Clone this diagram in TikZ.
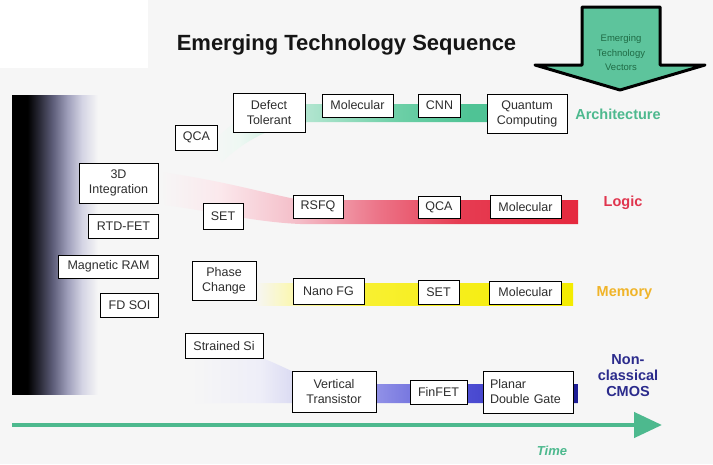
\documentclass[tikz,border=0pt]{standalone}
\usepackage{fontspec}
\setmainfont{Liberation Sans}
\usetikzlibrary{arrows.meta}
\definecolor{bg}{HTML}{F6F6F6}
\definecolor{archgreen}{HTML}{4DB98E}
\definecolor{arrowgreen}{HTML}{5DC49C}
\definecolor{arrowtext}{HTML}{1F6B45}
\definecolor{logicred}{HTML}{E0354E}
\definecolor{memyellow}{HTML}{F0B429}
\definecolor{cmosblue}{HTML}{2B2B8C}
\definecolor{timegreen}{HTML}{4DB98E}
\definecolor{boxtext}{HTML}{2E2E2E}
\definecolor{titletext}{HTML}{151515}
% dark bar stops
\definecolor{dbA}{HTML}{2A2A38}
\definecolor{dbB}{HTML}{60607C}
\definecolor{dbC}{HTML}{9C9CB8}
\definecolor{dbD}{HTML}{D4D4E4}
% green band stops
\definecolor{gA}{HTML}{EEF8F3}
\definecolor{gB}{HTML}{B4E6D1}
\definecolor{gC}{HTML}{6CCFA6}
\definecolor{gD}{HTML}{4FC395}
% red band stops
\definecolor{rA}{HTML}{FBE8EC}
\definecolor{rB}{HTML}{F4BCC7}
\definecolor{rC}{HTML}{EC7286}
\definecolor{rD}{HTML}{E63C52}
\definecolor{rE}{HTML}{E5283E}
% yellow band stops
\definecolor{yA}{HTML}{FBF7B0}
\definecolor{yB}{HTML}{F8F030}
\definecolor{yC}{HTML}{F4EC00}
% blue band stops
\definecolor{bA}{HTML}{EEEEF8}
\definecolor{bB}{HTML}{DADAF2}
\definecolor{bC}{HTML}{8E8EE6}
\definecolor{bD}{HTML}{4C4CD2}
\definecolor{bE}{HTML}{2C2CB4}
\definecolor{bF}{HTML}{1E1E96}
\pgfdeclarehorizontalshading{darkbar}{100bp}{color(0bp)=(black); color(25bp)=(black); color(34bp)=(black); color(41bp)=(dbA); color(49bp)=(dbB); color(57bp)=(dbC); color(65.7bp)=(dbD); color(75bp)=(bg); color(100bp)=(bg)}
\pgfdeclarehorizontalshading{greenband}{100bp}{color(0bp)=(bg); color(25bp)=(bg); color(30bp)=(gA); color(41.4bp)=(gB); color(58.2bp)=(gC); color(70.6bp)=(gD); color(100bp)=(gD)}
\pgfdeclarehorizontalshading{redband}{100bp}{color(0bp)=(bg); color(25bp)=(bg); color(32.2bp)=(rA); color(41.7bp)=(rB); color(51.3bp)=(rC); color(60.9bp)=(rD); color(75bp)=(rE); color(100bp)=(rE)}
\pgfdeclarehorizontalshading{yellowband}{100bp}{color(0bp)=(bg); color(25bp)=(bg); color(31bp)=(yA); color(43bp)=(yB); color(75bp)=(yC); color(100bp)=(yC)}
\pgfdeclarehorizontalshading{blueband}{100bp}{color(0bp)=(bg); color(25bp)=(bg); color(34bp)=(bA); color(38.5bp)=(bB); color(49.5bp)=(bC); color(61.1bp)=(bD); color(73.8bp)=(bE); color(74.2bp)=(bF); color(100bp)=(bF)}
\begin{document}
\begin{tikzpicture}[x=1pt,y=-1pt,
  box/.style={draw=black, line width=0.8pt, fill=white, text=boxtext,
    font=\fontsize{12.5}{15}\selectfont, align=center, inner sep=0pt},
  rowlabel/.style={font=\fontsize{14.5}{16}\selectfont\bfseries, align=center, inner sep=0pt}]
\useasboundingbox (0,0) rectangle (713,464);
% background
\fill[bg] (0,0) rectangle (713,464);
\fill[white] (0,0) rectangle (148,68);
% left dark bar
\shade[shading=darkbar] (12,95) rectangle (98,394);
% bands
\shade[shading=greenband] (210,148) .. controls (228,120) and (260,104) .. (310,104) -- (495,104) -- (495,122) -- (310,122) .. controls (275,124) and (245,140) .. (222,162) -- cycle;
\shade[shading=redband] (160,172) .. controls (220,180) and (260,192) .. (300,200) -- (578,200) -- (578,224) -- (300,224) .. controls (255,222) and (215,212) .. (165,205) -- cycle;
\shade[shading=yellowband] (255,283) rectangle (573,305);
\shade[shading=blueband] (190,358) -- (262,358) .. controls (275,363) and (285,368) .. (300,375) -- (330,384) -- (578,384) -- (578,403) -- (190,403) -- cycle;
% title
\node[font=\fontsize{22}{26}\selectfont\bfseries, text=titletext, inner sep=0pt] (title) at (346.5,45) {Emerging Technology Sequence};
% big arrow
\draw[fill=arrowgreen, line width=3pt, line join=round] (582,7) -- (660,7) -- (660,65) -- (705,65) -- (620,90) -- (535,65) -- (582,65) -- cycle;
\node[font=\fontsize{9.5}{14.5}\selectfont, text=arrowtext, align=center, inner sep=0pt] (vectors) at (621,53) {Emerging\\Technology\\Vectors};
% architecture row
\node[box, minimum width=42pt, minimum height=25pt] (qcaA) at (196.5,137.5) {QCA};
\node[box, minimum width=72pt, minimum height=39pt] (defect) at (269,112.5) {Defect\\Tolerant};
\node[box, minimum width=71pt, minimum height=23pt] (molA) at (357.5,105.5) {Molecular};
\node[box, minimum width=42pt, minimum height=23pt] (cnn) at (439.5,105.5) {CNN};
\node[box, minimum width=80pt, minimum height=39pt] (quantum) at (527,113.5) {Quantum\\Computing};
\node[rowlabel, text=archgreen] (archlabel) at (618,114) {Architecture};
% left column
\node[box, minimum width=79pt, minimum height=40pt] (int3d) at (118.5,183) {3D\\Integration};
\node[box, minimum width=70pt, minimum height=24pt] (rtd) at (123.5,226) {RTD-FET};
\node[box, minimum width=100pt, minimum height=23pt] (mram) at (108.5,266.5) {Magnetic RAM};
\node[box, minimum width=58pt, minimum height=24pt] (fdsoi) at (129.5,305) {FD SOI};
% logic row
\node[box, minimum width=40pt, minimum height=26pt] (setL) at (223,216) {SET};
\node[box, minimum width=50pt, minimum height=23pt] (rsfq) at (318,206.5) {RSFQ};
\node[box, minimum width=42pt, minimum height=22pt] (qcaL) at (439,207) {QCA};
\node[box, minimum width=71pt, minimum height=23pt] (molL) at (525.5,207) {Molecular};
\node[rowlabel, text=logicred] (logiclabel) at (623,203) {Logic};
% memory row
\node[box, minimum width=64pt, minimum height=39pt] (phase) at (224,280.5) {Phase\\Change};
\node[box, minimum width=71pt, minimum height=26pt] (nanofg) at (328.5,291.5) {Nano FG};
\node[box, minimum width=41pt, minimum height=24pt] (setM) at (438.5,292) {SET};
\node[box, minimum width=72pt, minimum height=23pt] (molM) at (525.5,292.5) {Molecular};
\node[rowlabel, text=memyellow] (memlabel) at (624.5,293) {Memory};
% CMOS row
\node[box, minimum width=78pt, minimum height=25pt] (strained) at (224,346) {Strained Si};
\node[box, minimum width=84pt, minimum height=41pt] (vertical) at (334,391.5) {Vertical\\Transistor};
\node[box, minimum width=57pt, minimum height=24pt] (finfet) at (438.5,392) {FinFET};
\node[box, minimum width=90pt, minimum height=42pt, align=left, text width=76pt, inner xsep=0pt] (planar) at (528,392) {Planar\\Double Gate};
\node[rowlabel, text=cmosblue, font=\fontsize{14.5}{16}\selectfont\bfseries] (cmoslabel) at (628,376) {Non-\\classical\\CMOS};
% time axis
\coordinate (t0) at (12,425);
\coordinate (t1) at (662,425);
\draw[timegreen, line width=4.5pt, -{Triangle[length=28pt,width=25pt]}] (t0) -- (t1);
\node[font=\fontsize{13}{15}\selectfont\bfseries\itshape, text=timegreen, inner sep=0pt] (time) at (552,451) {Time};
\end{tikzpicture}
\end{document}
